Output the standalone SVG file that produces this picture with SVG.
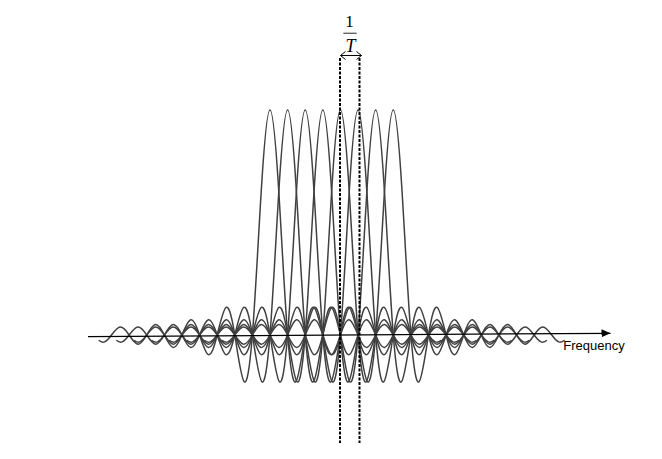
<svg xmlns="http://www.w3.org/2000/svg" xmlns:xlink="http://www.w3.org/1999/xlink" width="662" height="459" viewBox="0 0 662 459">
<style>
.sinc{fill:none;stroke:#404040;stroke-width:1.5;stroke-linejoin:round}
.axis{fill:none;stroke:#000;stroke-width:1.2}
.dash{fill:none;stroke:#000;stroke-width:2;stroke-dasharray:3 1.5}
.sans{font-family:"Liberation Sans",Arial,sans-serif}
.serif{font-family:"Liberation Serif","Times New Roman",serif}
</style>
<defs>
<path id="sinc" class="sinc" d="M-171.253,5.285 c4.255,3.666 7.173,2.335 12.763,-5.285 c7.447,-10.15 10.163,-11.42 17.61,0 c7.44,11.41 10.17,13.04 17.61,0 c7.43,-13.02 10.18,-15.19 17.61,0 c7.412,15.15 10.198,18.18 17.61,0 c7.382,-18.11 10.228,-22.64 17.61,0 c7.322,22.45 10.288,29.94 17.61,0 c7.174,-29.33 10.436,-44 17.61,0 c6.644,40.75 10.966,81.5 17.61,0 c2.935,-37.5 5.87,-95.5 8.805,-143.24 c2.935,-47.75 5.87,-81.76 8.805,-81.76 c2.935,0 5.87,34.01 8.805,81.76 c2.935,47.74 5.87,105.74 8.805,143.24 c6.644,81.5 10.966,40.75 17.61,0 c7.174,-44 10.436,-29.33 17.61,0 c7.322,29.94 10.288,22.45 17.61,0 c7.382,-22.64 10.228,-18.11 17.61,0 c7.412,18.18 10.198,15.15 17.61,0 c7.43,-15.19 10.18,-13.02 17.61,0 c7.44,13.04 10.17,11.41 17.61,0 c7.447,-11.42 10.163,-10.15 17.61,0 c5.59,7.62 8.508,8.951 12.763,5.285"/>
<marker id="arrowFill" markerWidth="10" markerHeight="10" refX="9" refY="4" orient="auto" markerUnits="userSpaceOnUse">
<path d="M0,0 L9,4 L0,8 Z" fill="#000"/>
</marker>
<marker id="arrowOpen" markerWidth="8" markerHeight="10" refX="5.5" refY="4.5" orient="auto-start-reverse" markerUnits="userSpaceOnUse">
<path d="M0.5,0.5 L5.5,4.5 L0.5,8.5" fill="none" stroke="#000" stroke-width="1"/>
</marker>
</defs>

<g id="subcarriers">
<use id="sc1" xlink:href="#sinc" href="#sinc" transform="translate(270,335)"/>
<use id="sc2" xlink:href="#sinc" href="#sinc" transform="translate(287.61,335)"/>
<use id="sc3" xlink:href="#sinc" href="#sinc" transform="translate(305.22,335)"/>
<use id="sc4" xlink:href="#sinc" href="#sinc" transform="translate(322.83,335)"/>
<use id="sc5" xlink:href="#sinc" href="#sinc" transform="translate(340.44,335)"/>
<use id="sc6" xlink:href="#sinc" href="#sinc" transform="translate(358.05,335)"/>
<use id="sc7" xlink:href="#sinc" href="#sinc" transform="translate(375.66,335)"/>
<use id="sc8" xlink:href="#sinc" href="#sinc" transform="translate(393.27,335)"/>
</g>

<g id="axis">
<line class="axis" x1="88" y1="336.6" x2="610.5" y2="333.3" marker-end="url(#arrowFill)"/>
</g>
<g id="label-frequency">
<text class="sans" x="563.3" y="350" font-size="13" fill="#000">Frequency</text>
</g>

<g id="connectors">
<line class="dash" x1="340" y1="58" x2="340" y2="443"/>
<line class="dash" x1="359.5" y1="58" x2="359.5" y2="443"/>
<line x1="340.5" y1="55.5" x2="361.5" y2="55.5" stroke="#000" stroke-width="1" marker-start="url(#arrowOpen)" marker-end="url(#arrowOpen)"/>
</g>

<g id="label-spacing">
<text class="serif" x="349.5" y="27" font-size="17" text-anchor="middle" fill="#000">1</text>
<line x1="343.3" y1="33.3" x2="356.7" y2="33.3" stroke="#666" stroke-width="1.4"/>
<text class="serif" x="350.5" y="52" font-size="18" font-style="italic" text-anchor="middle" fill="#000">T</text>
</g>
</svg>
